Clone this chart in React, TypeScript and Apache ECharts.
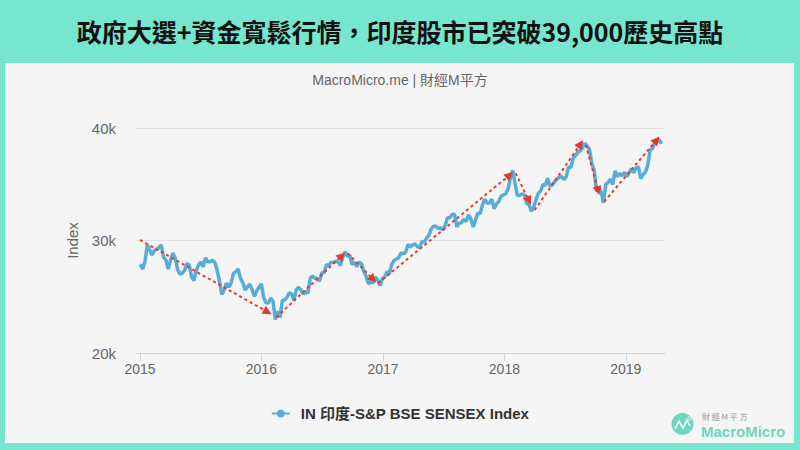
import React, { useEffect, useRef } from 'react';
import * as echarts from 'echarts';

const TITLE = '政府大選+資金寬鬆行情，印度股市已突破39,000歷史高點';
const SUBTITLE = 'MacroMicro.me | 財經M平方';
const SERIES_NAME = 'IN 印度-S&P BSE SENSEX Index';
const Y_NAME = 'Index';

// Weekly closes (Fridays) starting 2015-01-02
const FIRST_WEEK = Date.UTC(2015, 0, 2);
const v2015 = [27887, 27458, 28121, 29600, 29183, 28718, 29095, 29231, 29362, 29600, 28503, 28262, 27458, 28260, 28879, 28442, 27437, 27011, 27105, 27324, 27957, 27828, 26768, 26425, 27316, 27811, 28092, 27661, 28463, 28112, 28115, 28236, 28067, 27366, 26392, 25202, 25611, 26219, 25863, 26221, 27080, 27214, 27471, 26657, 26265, 25611, 25868, 26128, 25638, 25044, 25519, 25838];
const v2016 = [26160, 24934, 24455, 24435, 24871, 24617, 22986, 23709, 23154, 24646, 24717, 24952, 25338, 25269, 24673, 25627, 25838, 25607, 25228, 25489, 25302, 26653, 26843, 26636, 26626, 26397, 27145, 27127, 27837, 27803, 28052, 28078, 28152, 28077, 27782, 28532, 29000, 28599, 28668, 27866, 28061, 27674, 28077, 27942, 27274, 26819, 26150, 26316, 26231, 26747, 26489, 25994, 26626];
const v2017 = [26759, 27238, 27034, 27882, 28241, 28334, 28469, 28893, 28833, 28946, 29649, 29421, 29621, 29707, 29461, 29365, 29918, 29859, 30188, 30465, 31028, 31273, 31262, 31056, 31138, 30922, 31361, 32021, 32029, 32309, 32326, 31214, 31525, 31596, 31892, 31688, 32272, 31922, 31200, 31814, 32433, 32390, 33157, 33686, 33315, 33343, 33679, 32833, 33250, 33463, 33940, 34057];
const v2018 = [34153, 34592, 35512, 36250, 35067, 34005, 34010, 34142, 34046, 33307, 33176, 32597, 32969, 33627, 34193, 34416, 34970, 34915, 35536, 34849, 34925, 35227, 35444, 35622, 35689, 35423, 35658, 36541, 36496, 37337, 37557, 37869, 37948, 38252, 38645, 38390, 38091, 36842, 36227, 34377, 34734, 34316, 33349, 35011, 35158, 35457, 34981, 36194, 35673, 35963, 35742, 36076];
const v2019 = [35695, 36010, 36387, 36025, 36469, 36546, 35500, 35871, 36064, 36671, 38024, 38164, 38673, 38862, 38950, 38600];

// Trend arrows (red dashed)
const trendFrom: [string, number][] = [
  ['2015-01-01', 30050],
  ['2016-02-15', 23170],
  ['2016-09-17', 28860],
  ['2016-12-17', 26200],
  ['2018-02-04', 35970],
  ['2018-04-02', 32710],
  ['2018-09-03', 38490],
  ['2018-10-28', 33450],
];
const trendTo: [string, number][] = [
  ['2016-01-20', 23650],
  ['2016-08-30', 28640],
  ['2016-12-02', 26550],
  ['2018-01-17', 35820],
  ['2018-03-16', 33540],
  ['2018-08-18', 38580],
  ['2018-10-10', 34430],
  ['2019-04-04', 38930],
];

const Y_MIN = 20000;
const Y_MAX = 40000;
const Y_STEP = 10000;
const X_MIN = '2014-12-20';
const X_MAX = '2019-04-29';

const TEAL = '#76e6ce';
const LINE_BLUE = '#58acd8';
const RED = '#e23b2e';
const FONT = 'Helvetica, Arial, "Liberation Sans", "Noto Sans CJK TC", sans-serif';

const ts = (d: string) => Date.parse(d + 'T00:00:00Z');

export default function App() {
  const ref = useRef<HTMLDivElement>(null);
  useEffect(() => {
    const chart = echarts.init(ref.current!, null, { renderer: 'svg' });
    const allValues = [...v2015, ...v2016, ...v2017, ...v2018, ...v2019];
    const data = allValues.map((v, i) => [FIRST_WEEK + i * 7 * 86400000, v]);
    const arrows = trendFrom.map((s, i) => [
      { coord: [ts(s[0]), s[1]] },
      { coord: [ts(trendTo[i][0]), trendTo[i][1]] },
    ]);
    chart.setOption({
      animation: false,
      backgroundColor: 'transparent',
      textStyle: { fontFamily: FONT },
      graphic: [
        {
          type: 'text',
          x: 400,
          y: 31,
          style: {
            text: TITLE,
            align: 'center',
            verticalAlign: 'middle',
            font: 'bold 25px "Noto Sans CJK TC", sans-serif',
            fill: '#111',
          },
        },
        {
          type: 'text',
          x: 400,
          y: 80,
          style: {
            text: SUBTITLE,
            align: 'center',
            verticalAlign: 'middle',
            font: '14px ' + FONT,
            fill: '#666',
          },
        },
        {
          type: 'circle',
          shape: { cx: 682.5, cy: 424, r: 11 },
          style: { fill: '#6ad8c0' },
        },
        {
          type: 'polyline',
          shape: { points: [[675, 429], [679, 421], [683, 428], [687, 420], [690, 426]] },
          style: { stroke: '#fff', lineWidth: 1.6, fill: 'none' },
        },
        {
          type: 'circle',
          shape: { cx: 689.5, cy: 418.5, r: 1.6 },
          style: { stroke: '#fff', lineWidth: 1, fill: '#6ad8c0' },
        },
        {
          type: 'text',
          x: 702,
          y: 416,
          style: {
            text: '財 經 M 平 方',
            verticalAlign: 'middle',
            font: '8px "Noto Sans CJK TC", sans-serif',
            fill: '#9a9a9a',
          },
        },
        {
          type: 'text',
          x: 701,
          y: 431.5,
          style: {
            text: 'MacroMicro',
            verticalAlign: 'middle',
            font: 'bold 15px Arial, "Liberation Sans", sans-serif',
            fill: '#6ad8c0',
          },
        },
      ],
      grid: { left: 136, right: 135, top: 128, bottom: 97, containLabel: false },
      legend: {
        data: [SERIES_NAME],
        top: 401,
        left: 'center',
        itemWidth: 18,
        itemHeight: 10,
        textStyle: { fontSize: 15, fontWeight: 'bold', color: '#333', fontFamily: FONT, padding: [0, 0, 0, 6] },
      },
      xAxis: {
        type: 'time',
        min: ts(X_MIN),
        max: ts(X_MAX),
        minInterval: 365 * 86400000,
        splitNumber: 4,
        axisLine: { lineStyle: { color: '#ccd6eb', width: 1 } },
        axisTick: { show: true, length: 8, lineStyle: { color: '#ccd6eb' } },
        axisLabel: {
          color: '#666',
          fontSize: 14,
          margin: 9,
          formatter: (val: number) => String(new Date(val).getUTCFullYear()),
        },
        splitLine: { show: false },
      },
      yAxis: {
        type: 'value',
        min: Y_MIN,
        max: Y_MAX,
        interval: Y_STEP,
        name: Y_NAME,
        nameLocation: 'middle',
        nameGap: 56,
        nameTextStyle: { color: '#666', fontSize: 15 },
        axisLine: { show: false },
        axisTick: { show: false },
        axisLabel: {
          color: '#666',
          fontSize: 15,
          margin: 20,
          formatter: (v: number) => v / 1000 + 'k',
        },
        splitLine: { lineStyle: { color: '#e3e3e3', width: 1 } },
      },
      series: [
        {
          name: SERIES_NAME,
          type: 'line',
          data,
          symbol: 'circle',
          symbolSize: 9,
          showSymbol: false,
          lineStyle: { color: LINE_BLUE, width: 3.5 },
          itemStyle: { color: LINE_BLUE },
          emphasis: { disabled: true },
          markLine: {
            silent: true,
            symbol: ['none', 'triangle'],
            symbolSize: 9,
            label: { show: false },
            lineStyle: { color: RED, type: [3, 3], width: 2 },
            emphasis: { disabled: true },
            data: arrows,
          },
        },
      ],
    });
    return () => chart.dispose();
  }, []);
  return (
    <div style={{ position: 'fixed', left: 0, top: 0, width: 800, height: 450, background: TEAL }}>
      <div style={{ position: 'absolute', left: 5, top: 63, width: 789, height: 380, background: '#f5f5f5' }} />
      <div ref={ref} style={{ position: 'absolute', left: 0, top: 0, width: 800, height: 450 }} />
    </div>
  );
}
